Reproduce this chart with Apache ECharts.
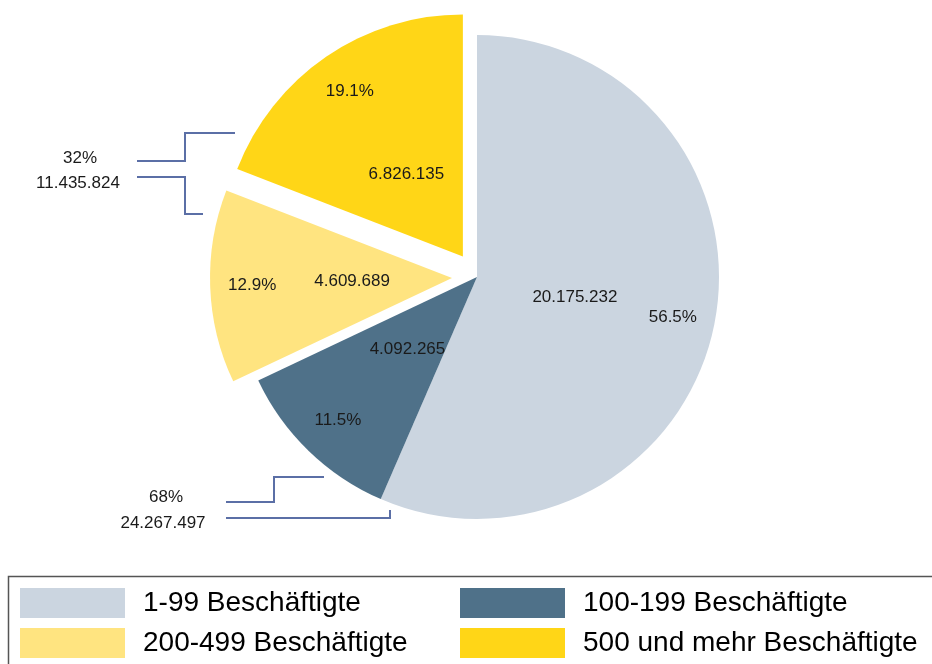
<!DOCTYPE html>
<html>
<head>
<meta charset="utf-8">
<script src="https://cdn.jsdelivr.net/npm/echarts@6/dist/echarts.min.js"></script>
<style>
  html, body { margin: 0; padding: 0; background: #fff; }
  #chart { width: 932px; height: 664px; }
</style>
</head>
<body>
<div id="chart"></div>
<script>
// ---- data ----
const categories = ['1-99 Beschäftigte', '100-199 Beschäftigte', '200-499 Beschäftigte', '500 und mehr Beschäftigte'];
const values = [20175232, 4092265, 4609689, 6826135];
const exploded = [false, false, true, true];
const colors = ['#cbd5e0', '#4f7189', '#ffe480', '#ffd617'];

// ---- helpers ----
const total = values.reduce((a, b) => a + b, 0);
const fmt = n => String(n).replace(/\B(?=(\d{3})+(?!\d))/g, '.');
const pct1 = v => (v / total * 100).toFixed(1) + '%';
const groupBig = values.filter((v, i) => exploded[i]).reduce((a, b) => a + b, 0);
const groupSmall = values.filter((v, i) => !exploded[i]).reduce((a, b) => a + b, 0);

const FONT = "'Liberation Sans', Arial, sans-serif";
const CENTER = [477, 277];
const R = 242;
const OFFSET = 25;

function pieData(visible) {
  return categories.map((c, i) => ({
    name: c,
    value: values[i],
    selected: exploded[i],
    itemStyle: { color: visible ? colors[i] : 'rgba(0,0,0,0)' }
  }));
}

const base = {
  type: 'pie',
  center: CENTER,
  startAngle: 90,
  clockwise: true,
  selectedMode: 'multiple',
  selectedOffset: OFFSET,
  silent: true,
  animation: false,
  labelLine: { show: false },
  emphasis: { disabled: true, scale: false }
};

const bracketColor = '#5b6fa6';
function line(points) {
  return { type: 'polyline', shape: { points }, style: { stroke: bracketColor, lineWidth: 2, fill: null }, silent: true };
}
function txt(x, y, text) {
  return { type: 'text', x, y, style: { text, fill: '#1a1a1a', font: '17px ' + FONT, align: 'center', verticalAlign: 'middle' }, silent: true };
}

function legendCol(names, left) {
  return {
    data: names,
    orient: 'vertical', left: left, top: 588,
    width: 470, height: 120,
    padding: 0,
    itemWidth: 105, itemHeight: 30, itemGap: 10,
    selectedMode: false,
    icon: 'rect',
    itemStyle: { borderWidth: 0 },
    textStyle: { fontSize: 28, fontFamily: FONT, color: '#000', padding: [4, 0, 0, 13] }
  };
}

const chart = echarts.init(document.getElementById('chart'));
chart.setOption({
  animation: false,
  backgroundColor: '#ffffff',
  legend: [
    legendCol([categories[0], categories[2]], 20),
    legendCol([categories[1], categories[3]], 460)
  ],
  series: [
    Object.assign({}, base, {
      name: 'slices',
      radius: [0, R],
      label: { show: false },
      data: pieData(true)
    }),
    Object.assign({}, base, {
      name: 'values',
      radius: [0, 194],
      label: {
        show: true, position: 'inside', color: '#1a1a1a',
        fontSize: 17, fontFamily: FONT,
        formatter: p => fmt(p.value)
      },
      data: pieData(false)
    }),
    Object.assign({}, base, {
      name: 'percents',
      radius: [150, 244],
      label: {
        show: true, position: 'inside', color: '#1a1a1a',
        fontSize: 17, fontFamily: FONT,
        formatter: p => pct1(p.value)
      },
      data: pieData(false)
    })
  ],
  graphic: [
    { type: 'rect', shape: { x: 8.5, y: 576.5, width: 940, height: 120 }, style: { fill: null, stroke: '#555', lineWidth: 1.5 }, silent: true },
    line([[137, 161], [185, 161], [185, 133], [235, 133]]),
    line([[137, 177], [185, 177], [185, 214], [203, 214]]),
    line([[226, 502], [274, 502], [274, 477], [324, 477]]),
    line([[226, 518], [390, 518], [390, 510]]),
    txt(80, 158, Math.round(groupBig / total * 100) + '%'),
    txt(78, 183, fmt(groupBig)),
    txt(166, 497, Math.round(groupSmall / total * 100) + '%'),
    txt(163, 523, fmt(groupSmall))
  ]
});
</script>
</body>
</html>
